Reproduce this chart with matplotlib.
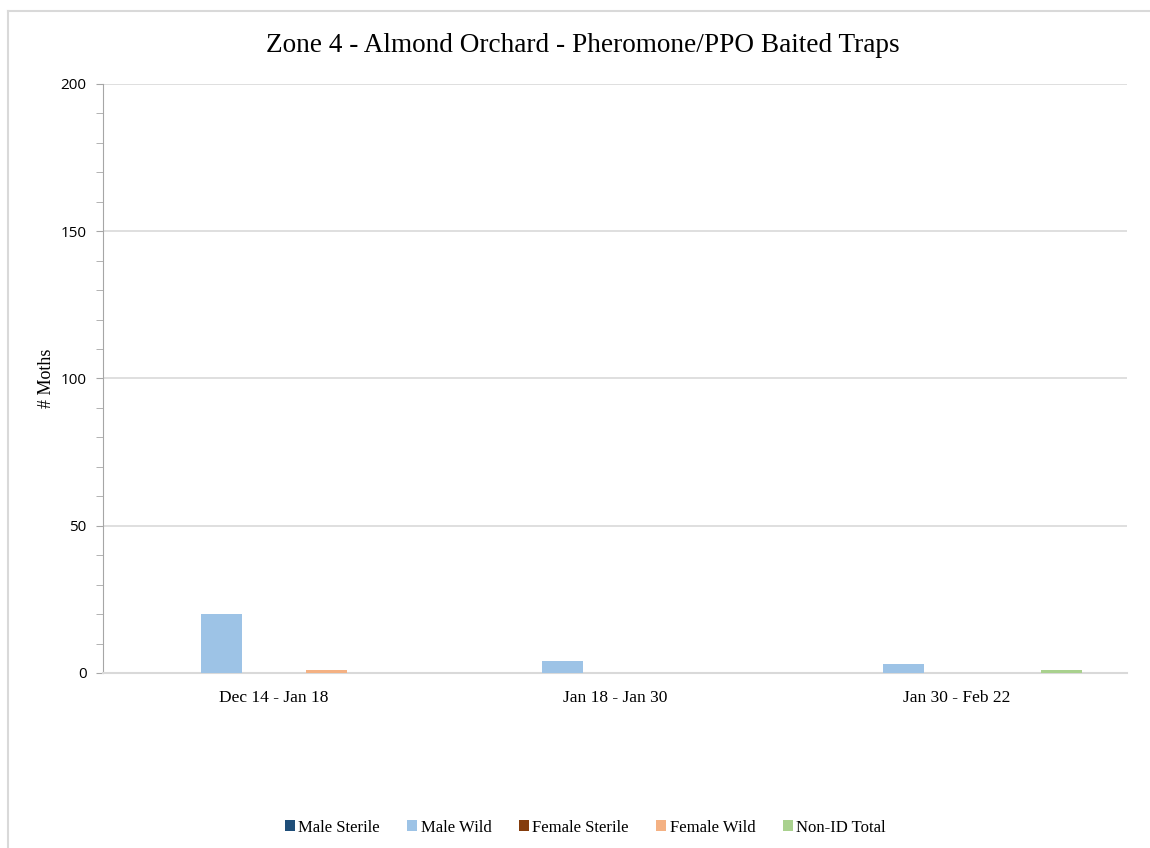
import numpy as np
import matplotlib.pyplot as plt
from matplotlib.ticker import MultipleLocator
from matplotlib.lines import Line2D

categories = ['Dec 14 - Jan 18', 'Jan 18 - Jan 30', 'Jan 30 - Feb 22']
series_names = ['Male Sterile', 'Male Wild', 'Female Sterile', 'Female Wild', 'Non-ID Total']
male_sterile = [0, 0, 0]
male_wild = [20, 4, 3]
female_sterile = [0, 0, 0]
female_wild = [1, 0, 0]
non_id_total = [0, 0, 1]
colors = ['#1F4E79', '#9DC3E6', '#843C0C', '#F4B183', '#A9D18E']

serif = ['Liberation Serif', 'DejaVu Serif']
sans = ['Open Sans', 'DejaVu Sans']

fig = plt.figure(figsize=(11.5, 8.48), dpi=100)
ax = fig.add_axes([0.0898, 0.2064, 0.8902, 0.6946])

x = np.arange(len(categories))
slot = 0.154
width = 0.12
all_series = [male_sterile, male_wild, female_sterile, female_wild, non_id_total]
for i, (vals, name, c) in enumerate(zip(all_series, series_names, colors)):
    ax.bar(x + (i - 2) * slot, vals, width, color=c, label=name, zorder=3)

ax.set_xlim(-0.5, 2.5)
ax.set_ylim(0, 200)
ax.yaxis.set_major_locator(MultipleLocator(50))
ax.yaxis.set_minor_locator(MultipleLocator(10))
ax.grid(axis='y', which='major', color='#D9D9D9', linewidth=1.2, zorder=0)

for s in ['top', 'right']:
    ax.spines[s].set_visible(False)
ax.spines['left'].set_color('#A6A6A6')
ax.spines['bottom'].set_color('#D9D9D9')
ax.spines['bottom'].set_linewidth(1.5)

ax.tick_params(axis='y', which='both', direction='out', color='#A6A6A6', length=5, labelsize=11)
ax.tick_params(axis='y', which='major', pad=7)
ax.tick_params(axis='x', length=0, pad=12)
ax.set_xticks(x)
ax.set_xticklabels(categories, family=serif, fontsize=12.5)
for lbl in ax.get_yticklabels():
    lbl.set_family(sans)

ax.set_ylabel('# Moths', family=serif, fontsize=13, labelpad=4)
fig.text(0.507, 0.946, 'Zone 4 - Almond Orchard - Pheromone/PPO Baited Traps',
         family=serif, fontsize=19.6, ha='center', va='center')

fig.legend(loc='center', bbox_to_anchor=(0.509, 0.024), ncol=5, frameon=False,
           prop={'family': serif, 'size': 12}, handlelength=0.6, handleheight=0.6,
           handletextpad=0.2, columnspacing=1.65)

# chart area border (left and top visible)
fig.add_artist(Line2D([8 / 1150, 8 / 1150], [0, 1 - 11 / 848], transform=fig.transFigure,
                      color='#D9D9D9', linewidth=1.5))
fig.add_artist(Line2D([8 / 1150, 1], [1 - 11 / 848, 1 - 11 / 848], transform=fig.transFigure,
                      color='#D9D9D9', linewidth=1.5))

fig.savefig('out.png', dpi=100)
